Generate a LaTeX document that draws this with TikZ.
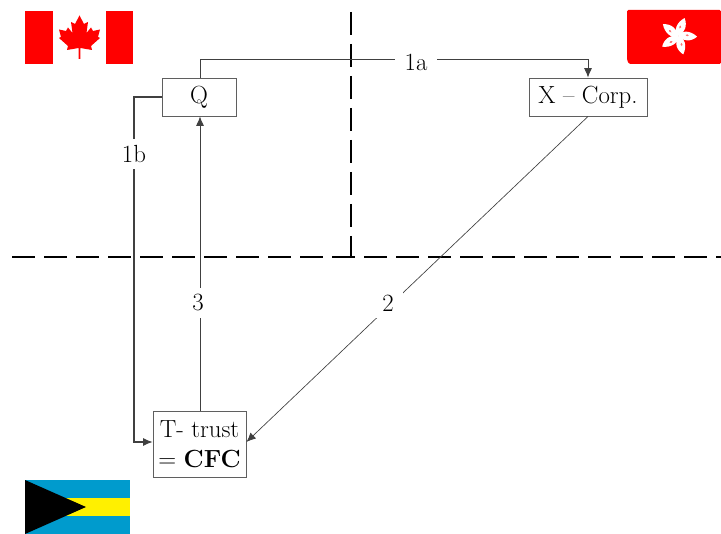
\documentclass[tikz,border=0pt]{standalone}
\usetikzlibrary{arrows.meta,calc}
\definecolor{flagred}{RGB}{255,0,0}
\definecolor{bahblue}{RGB}{0,155,205}
\definecolor{bahyellow}{RGB}{255,240,0}
\definecolor{boxline}{RGB}{95,95,95}
\tikzset{
  box/.style={draw=boxline,line width=0.7pt,fill=white,inner sep=0pt,align=center,font=\fontsize{18.6}{22.5}\selectfont},
  conn/.style={draw=black!75,line width=0.65pt,-{Latex[length=7pt,width=6pt]}},
  divide/.style={draw=black,line width=0.8pt,dash pattern=on 17pt off 7pt},
  lab/.style={fill=white,inner xsep=7pt,inner ysep=5pt,font=\fontsize{18.6}{22.5}\selectfont}
}
\begin{document}
\begin{tikzpicture}[x=0.75pt,y=-0.75pt]
\useasboundingbox (0,0) rectangle (721,534);
% dividers
\coordinate (hL) at (12,257); \coordinate (hR) at (721,257);
\coordinate (vT) at (351,12); \coordinate (vB) at (351,257);
\draw[divide] (hL) -- (hR);
\draw[divide] (vT) -- (vB);
% flags: Canada
\fill[flagred] (25,11) rectangle (53,64);
\fill[flagred] (106,11) rectangle (133,64);
\fill[flagred] (79.5,15.5) -- (84,24) -- (88,22) -- (86.5,33) -- (91,27.5) -- (93,31) -- (100,29.5) -- (98,37) -- (100,38) -- (91,46) -- (92,50) -- (80.3,48) -- (80.3,59) -- (78.7,59) -- (78.7,48) -- (67,50) -- (68,46) -- (59,38) -- (61,37) -- (59,29.5) -- (66,31) -- (68,27.5) -- (72.5,33) -- (71,22) -- (75,24) -- cycle;
% flags: Hong Kong
\fill[flagred,rounded corners=1pt] (627,10) -- (721,10) -- (721,64) -- (629,64) -- (627,60) -- cycle;
\foreach \a in {-80,-8,64,136,208}{
  \begin{scope}[shift={(678,36)},rotate=\a]
    \fill[white] (0,0) .. controls (3,-7) and (12,-7) .. (19,-2) .. controls (14,4) and (5,5) .. (0,0) -- cycle;
    \fill[flagred!55] (9,-2) ellipse (1.6 and 1);
  \end{scope}
}
% flags: Bahamas
\fill[bahblue] (25,480) rectangle (130,534);
\fill[bahyellow] (25,498) rectangle (130,516);
\fill[black] (25,480) -- (86,507) -- (25,534) -- cycle;
% boxes
\node[box,minimum width=74pt*0.75,minimum height=38pt*0.75] (q) at (199,97) {Q};
\node[box,minimum width=118pt*0.75,minimum height=38pt*0.75] (x) at (588,97) {X -- Corp.};
\node[box,minimum width=93pt*0.75,minimum height=66pt*0.75] (t) at (199.5,444) {T- trust\\= \textbf{CFC}};
% connectors
\coordinate (a1) at (200,59);
\coordinate (a2) at (588,59);
\coordinate (b1) at (134,97);
\coordinate (b2) at (134,442);
\draw[conn] (q.north -| a1) -- (a1) -- (a2) -- (x.north -| a2);
\draw[conn,line width=0.8pt] (q.west |- b1) -- (b1) -- (b2) -- (t.west |- b2);
\draw[conn] (t.north -| a1) -- (q.south -| a1);
\draw[conn,line width=0.5pt] (x.south -| a2) -- (t.east |- b2);
% labels
\node[lab] (l1a) at (416,62) {1a};
\node[lab] (l1b) at (134,154) {1b};
\node[lab] (l3) at (198,303) {3};
\node[lab] (l2) at (388,303) {2};
\end{tikzpicture}
\end{document}
